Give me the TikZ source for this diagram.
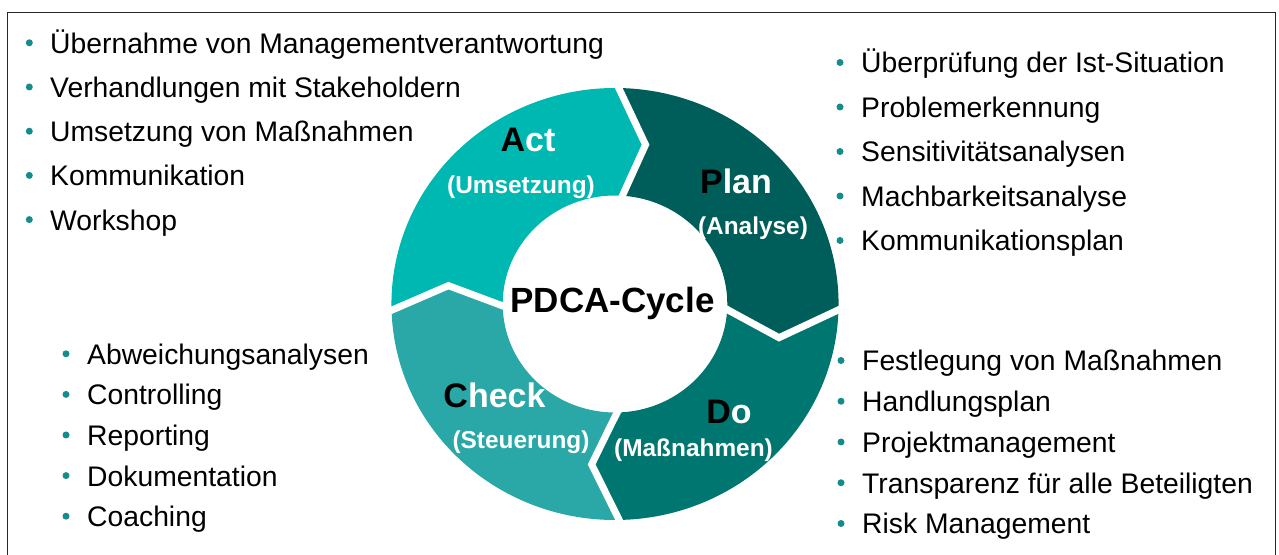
\documentclass[tikz,border=0pt]{standalone}
\usepackage{fontspec}
\setmainfont{Liberation Sans}
\definecolor{actc}{RGB}{0,184,178}
\definecolor{planc}{RGB}{0,94,90}
\definecolor{doc}{RGB}{0,118,112}
\definecolor{checkc}{RGB}{42,168,167}
\definecolor{bulletc}{RGB}{20,140,140}
\definecolor{framec}{RGB}{40,40,40}
\begin{document}
\begin{tikzpicture}[x=1pt,y=1pt,
  frame/.style={draw=framec, line width=1.6pt},
  gapline/.style={draw=white, line width=7pt, line join=miter},
  listitem/.style={anchor=base west, inner sep=0pt, font=\fontsize{28.3}{34}\selectfont},
  bulletdot/.style={circle, fill=bulletc, inner sep=0pt, minimum size=7pt},
  phase/.style={anchor=base, inner sep=0pt, text=white, font=\bfseries\fontsize{34}{40}\selectfont},
  phasesub/.style={anchor=base, inner sep=0pt, text=white, font=\bfseries\fontsize{24.4}{29}\selectfont},
  centertitle/.style={anchor=base, inner sep=0pt, font=\bfseries\fontsize{35}{42}\selectfont}]
\useasboundingbox (0,0) rectangle (1279,554);
\draw[frame] (7.3,541.3) rectangle (1275.3,-8);

% ring of four arrow-shaped segments
\begin{scope}[shift={(615,250)}, xscale=1.035]
  \fill[planc] (90:216) arc[start angle=90,end angle=-0.5,radius=216] -- (-12:162)
     -- (-0.5:108.5) arc[start angle=-0.5,end angle=88,radius=108.5] -- (79.5:162) -- cycle;
  \fill[doc] (-0.5:216) arc[start angle=-0.5,end angle=-88,radius=216] -- (-98:162)
     -- (-86.5:108.5) arc[start angle=-86.5,end angle=-0.5,radius=108.5] -- (-12:162) -- cycle;
  \fill[checkc] (-88:216) arc[start angle=-88,end angle=-177.5,radius=216] -- (-186.5:162)
     -- (-177:108.5) arc[start angle=-177,end angle=-86.5,radius=108.5] -- (-98:162) -- cycle;
  \fill[actc] (182.5:216) arc[start angle=182.5,end angle=90,radius=216] -- (79.5:162)
     -- (88:108.5) arc[start angle=88,end angle=183,radius=108.5] -- (173.5:162) -- cycle;
  % white separations between the segments
  \draw[gapline] (90:224) -- (79.5:162) -- (88:100);
  \draw[gapline] (-0.5:224) -- (-12:162) -- (-0.5:100);
  \draw[gapline] (-88:224) -- (-98:162) -- (-86.5:100);
  \draw[gapline] (182.5:224) -- (173.5:162) -- (183:100);
\end{scope}

% phase labels
\node[centertitle] (pdca) at (612.5,241.7) {PDCA-Cycle};
\node[phase] (act) at (528,402.3) {{\color{black}A}ct};
\node[phasesub] (actsub) at (521,360.7) {(Umsetzung)};
\node[phase] (plan) at (736,360.7) {{\color{black}P}lan};
\node[phasesub] (plansub) at (753,319.7) {(Analyse)};
\node[phase] (check) at (494.5,146.3) {{\color{black}C}heck};
\node[phasesub] (checksub) at (521,105.7) {(Steuerung)};
\node[phase] (do) at (729,130.7) {{\color{black}D}o};
\node[phasesub] (dosub) at (693.5,97.3) {(Maßnahmen)};

% top left list
\foreach \t [count=\i] in {Übernahme von Managementverantwortung, Verhandlungen mit Stakeholdern, Umsetzung von Maßnahmen, Kommunikation, Workshop}{
  \pgfmathsetmacro{\yb}{500.7-44.2*(\i-1)}
  \node[bulletdot] (tlb\i) at (29.3,\yb+10.5) {};
  \node[listitem] (tl\i) at (50,\yb) {\t};
}
% top right list
\foreach \t [count=\i] in {Überprüfung der Ist-Situation, Problemerkennung, Sensitivitätsanalysen, Machbarkeitsanalyse, Kommunikationsplan}{
  \pgfmathsetmacro{\yb}{481-44.5*(\i-1)}
  \node[bulletdot] (trb\i) at (840,\yb+10.5) {};
  \node[listitem] (tr\i) at (861,\yb) {\t};
}
% bottom left list
\foreach \t [count=\i] in {Abweichungsanalysen, Controlling, Reporting, Dokumentation, Coaching}{
  \pgfmathsetmacro{\yb}{189.7-40.6*(\i-1)}
  \node[bulletdot] (blb\i) at (66,\yb+10.5) {};
  \node[listitem] (bl\i) at (87,\yb) {\t};
}
% bottom right list
\foreach \t [count=\i] in {Festlegung von Maßnahmen, Handlungsplan, Projektmanagement, Transparenz für alle Beteiligten, Risk Management}{
  \pgfmathsetmacro{\yb}{183-40.75*(\i-1)}
  \node[bulletdot] (brb\i) at (841,\yb+10.5) {};
  \node[listitem] (br\i) at (862,\yb) {\t};
}
\end{tikzpicture}
\end{document}
